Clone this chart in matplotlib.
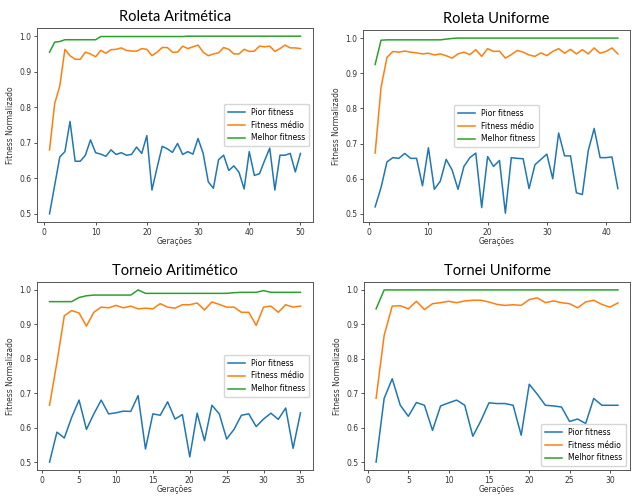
import matplotlib

matplotlib.use("Agg")
import matplotlib.pyplot as plt  # noqa: E402

# --- Roleta Aritmética (50 gerações) ---
ra_pior = [0.500, 0.580, 0.660, 0.675, 0.760, 0.648, 0.648, 0.665, 0.708, 0.672,
           0.668, 0.662, 0.680, 0.667, 0.672, 0.665, 0.667, 0.688, 0.670, 0.720,
           0.567, 0.630, 0.690, 0.683, 0.673, 0.698, 0.667, 0.675, 0.668, 0.712,
           0.670, 0.590, 0.572, 0.652, 0.665, 0.622, 0.635, 0.617, 0.570, 0.675,
           0.608, 0.613, 0.650, 0.685, 0.567, 0.665, 0.665, 0.670, 0.618, 0.670]
ra_medio = [0.680, 0.810, 0.860, 0.963, 0.945, 0.935, 0.935, 0.955, 0.950, 0.942,
            0.960, 0.952, 0.962, 0.963, 0.967, 0.960, 0.958, 0.958, 0.965, 0.963,
            0.945, 0.955, 0.968, 0.968, 0.955, 0.955, 0.972, 0.965, 0.970, 0.975,
            0.955, 0.945, 0.950, 0.953, 0.968, 0.963, 0.950, 0.950, 0.963, 0.957,
            0.958, 0.972, 0.970, 0.972, 0.957, 0.965, 0.975, 0.967, 0.967, 0.965]
ra_melhor = [0.955, 0.983, 0.985, 0.990, 0.990, 0.990, 0.990, 0.990, 0.990, 0.990,
             0.999, 0.999, 0.999, 0.999, 0.999, 0.999, 0.999, 0.999, 0.999, 0.999,
             0.999, 0.999, 0.999, 0.999, 0.999, 0.999, 0.999, 1.000, 1.000, 1.000,
             1.000, 1.000, 1.000, 1.000, 1.000, 1.000, 1.000, 1.000, 1.000, 1.000,
             1.000, 1.000, 1.000, 1.000, 1.000, 1.000, 1.000, 1.000, 1.000, 1.000]

# --- Roleta Uniforme (42 gerações) ---
ru_pior = [0.520, 0.575, 0.648, 0.660, 0.658, 0.672, 0.658, 0.658, 0.580, 0.688,
           0.570, 0.593, 0.655, 0.625, 0.570, 0.635, 0.660, 0.673, 0.518, 0.663,
           0.635, 0.652, 0.502, 0.660, 0.658, 0.657, 0.572, 0.640, 0.655, 0.670,
           0.600, 0.730, 0.665, 0.665, 0.560, 0.555, 0.680, 0.743, 0.660, 0.660,
           0.662, 0.572]
ru_medio = [0.673, 0.860, 0.945, 0.962, 0.960, 0.963, 0.960, 0.958, 0.955, 0.957,
            0.952, 0.955, 0.950, 0.943, 0.955, 0.960, 0.953, 0.967, 0.948, 0.970,
            0.962, 0.963, 0.943, 0.953, 0.965, 0.960, 0.952, 0.948, 0.958, 0.950,
            0.962, 0.970, 0.957, 0.968, 0.955, 0.967, 0.955, 0.972, 0.957, 0.962,
            0.972, 0.955]
ru_melhor = [0.925, 0.994, 0.995, 0.995, 0.995, 0.995, 0.995, 0.995, 0.995, 0.995,
             0.995, 0.995, 0.997, 0.999, 1.000, 1.000, 1.000, 1.000, 1.000, 1.000,
             1.000, 1.000, 1.000, 1.000, 1.000, 1.000, 1.000, 1.000, 1.000, 1.000,
             1.000, 1.000, 1.000, 1.000, 1.000, 1.000, 1.000, 1.000, 1.000, 1.000,
             1.000, 1.000]

# --- Torneio Aritimético (35 gerações) ---
ta_pior = [0.500, 0.587, 0.570, 0.630, 0.680, 0.595, 0.640, 0.680, 0.640, 0.643,
           0.648, 0.647, 0.693, 0.538, 0.640, 0.636, 0.675, 0.625, 0.638, 0.515,
           0.642, 0.562, 0.665, 0.640, 0.567, 0.595, 0.636, 0.640, 0.603, 0.625,
           0.642, 0.624, 0.657, 0.540, 0.643]
ta_medio = [0.665, 0.790, 0.925, 0.940, 0.933, 0.895, 0.935, 0.950, 0.948, 0.955,
            0.948, 0.953, 0.945, 0.947, 0.945, 0.960, 0.950, 0.947, 0.957, 0.957,
            0.962, 0.942, 0.965, 0.958, 0.950, 0.950, 0.935, 0.935, 0.897, 0.950,
            0.953, 0.935, 0.957, 0.950, 0.953]
ta_melhor = [0.966, 0.966, 0.966, 0.966, 0.978, 0.983, 0.985, 0.985, 0.985, 0.985,
             0.985, 0.985, 1.000, 0.990, 0.990, 0.990, 0.990, 0.990, 0.990, 0.990,
             0.990, 0.990, 0.990, 0.990, 0.990, 0.992, 0.993, 0.993, 0.993, 0.998,
             0.993, 0.993, 0.993, 0.993, 0.993]

# --- Tornei Uniforme (31 gerações) ---
tu_pior = [0.500, 0.685, 0.742, 0.665, 0.633, 0.673, 0.665, 0.592, 0.663, 0.672,
           0.680, 0.665, 0.575, 0.620, 0.672, 0.670, 0.670, 0.665, 0.578, 0.726,
           0.697, 0.665, 0.663, 0.660, 0.618, 0.625, 0.612, 0.685, 0.665, 0.665,
           0.665]
tu_medio = [0.685, 0.868, 0.953, 0.954, 0.945, 0.967, 0.943, 0.960, 0.963, 0.967,
            0.963, 0.968, 0.970, 0.970, 0.965, 0.958, 0.955, 0.957, 0.955, 0.972,
            0.977, 0.963, 0.968, 0.963, 0.960, 0.948, 0.965, 0.970, 0.958, 0.950,
            0.962]
tu_melhor = [0.945] + [1.000] * 30

TITLES = ["Roleta Aritmética", "Roleta Uniforme", "Torneio Aritimético", "Tornei Uniforme"]
SERIES = [(ra_pior, ra_medio, ra_melhor), (ru_pior, ru_medio, ru_melhor),
          (ta_pior, ta_medio, ta_melhor), (tu_pior, tu_medio, tu_melhor)]
XTICK_STEP = [10, 10, 5, 5]
LEGEND_LOC = ["center right", "center", "center right", "lower right"]
LABELS = ["Pior fitness", "Fitness médio", "Melhor fitness"]

W, H = 635, 497
# axes boxes in pixels: left, top, right, bottom
BOXES = [(37, 28, 313, 222), (363, 30, 630, 222), (37, 282, 313, 470), (364, 282, 630, 470)]

fig = plt.figure(figsize=(W / 100, H / 100), dpi=100)

for title, series, step, loc, (l, t, r, b) in zip(TITLES, SERIES, XTICK_STEP, LEGEND_LOC, BOXES):
    ax = fig.add_axes([l / W, 1 - b / H, (r - l) / W, (b - t) / H])
    gens = list(range(1, len(series[0]) + 1))
    for ys, lab in zip(series, LABELS):
        ax.plot(gens, ys, label=lab, linewidth=1.1)
    ax.set_ylim(0.477, 1.023)
    ax.set_yticks([0.5, 0.6, 0.7, 0.8, 0.9, 1.0])
    ax.set_xticks(range(0, len(gens) + 1, step))
    ax.tick_params(labelsize=5.5, length=2.5, width=0.6, pad=1.5, colors="#333333")
    for sp in ax.spines.values():
        sp.set_linewidth(0.7)
        sp.set_color("#555555")
    ax.set_xlabel("Gerações", fontsize=5.5, labelpad=0.5, color="#333333")
    ax.set_ylabel("Fitness Normalizado", fontsize=5.5, labelpad=3, color="#333333")
    ax.set_title(title, fontsize=10.5, family="Lato", pad=5)
    ax.legend(loc=loc, fontsize=5.5, handlelength=2.2, borderpad=0.5, labelspacing=0.5)

fig.savefig("out.png", dpi=100)
